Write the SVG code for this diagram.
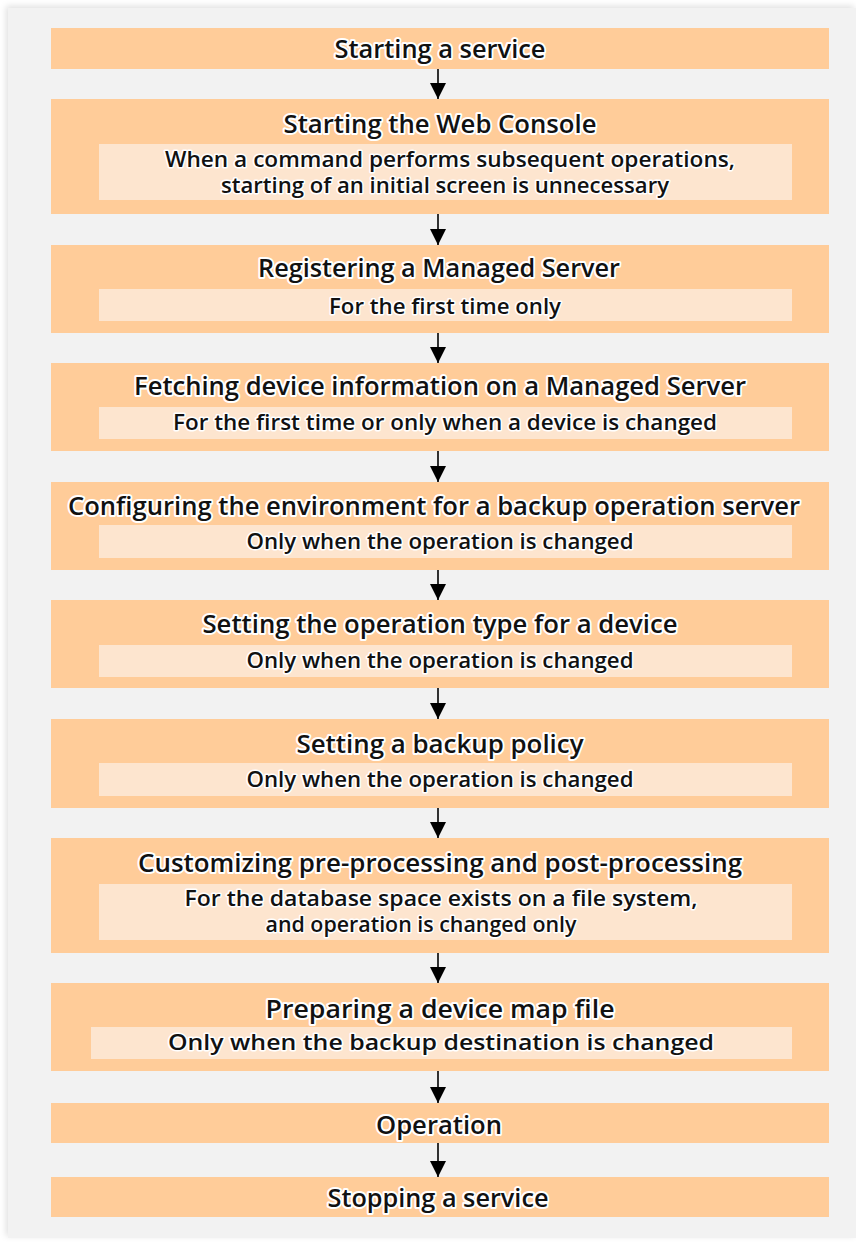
<svg xmlns="http://www.w3.org/2000/svg" width="856" height="1243" viewBox="0 0 856 1243">
<defs>
<filter id="sh" x="-5%" y="-5%" width="110%" height="110%">
<feDropShadow dx="-2" dy="-2" stdDeviation="3" flood-color="#000" flood-opacity="0.12"/>
</filter>
<marker id="ah" viewBox="0 0 16 16" refX="16" refY="8" markerWidth="16" markerHeight="16" markerUnits="userSpaceOnUse" orient="auto">
<path d="M0,0 L16,8 L0,16 Z" fill="#000"/>
</marker>
<style>
.box{fill:#ffcc99}
.inner{fill:#fde5cf}
.t{font-family:"Open Sans","Liberation Sans",sans-serif;font-weight:600;font-size:26px;fill:#111;stroke:#fff;stroke-width:4;stroke-linejoin:round;paint-order:stroke;text-anchor:middle}
.s{font-family:"Open Sans","Liberation Sans",sans-serif;font-weight:600;font-size:21px;fill:#111;stroke:#fff;stroke-width:3;stroke-linejoin:round;paint-order:stroke;text-anchor:middle}
.c{stroke:#000;stroke-width:1.6;fill:none}
</style>
</defs>
<rect x="0" y="0" width="856" height="1243" fill="#fff"/>
<rect x="8" y="8" width="848" height="1230" fill="#f2f2f2" filter="url(#sh)"/>

<g id="n1">
<rect class="box" x="51" y="28" width="778" height="41"/>
<text class="t" x="440" y="58" textLength="211" lengthAdjust="spacingAndGlyphs">Starting a service</text>
</g>
<g id="n2">
<rect class="box" x="51" y="99" width="778" height="115"/>
<rect class="inner" x="99" y="144" width="693" height="56"/>
<text class="t" x="440" y="133" textLength="313" lengthAdjust="spacingAndGlyphs">Starting the Web Console</text>
<text class="s" x="450" y="167" textLength="570" lengthAdjust="spacingAndGlyphs">When a command performs subsequent operations,</text>
<text class="s" x="445" y="193" textLength="448" lengthAdjust="spacingAndGlyphs">starting of an initial screen is unnecessary</text>
</g>
<g id="n3">
<rect class="box" x="51" y="245" width="778" height="88"/>
<rect class="inner" x="99" y="289" width="693" height="32"/>
<text class="t" x="439" y="277" textLength="362" lengthAdjust="spacingAndGlyphs">Registering a Managed Server</text>
<text class="s" x="445" y="314" textLength="232" lengthAdjust="spacingAndGlyphs">For the first time only</text>
</g>
<g id="n4">
<rect class="box" x="51" y="363" width="778" height="88"/>
<rect class="inner" x="99" y="407" width="693" height="32"/>
<text class="t" x="440" y="395" textLength="612" lengthAdjust="spacingAndGlyphs">Fetching device information on a Managed Server</text>
<text class="s" x="445" y="430" textLength="544" lengthAdjust="spacingAndGlyphs">For the first time or only when a device is changed</text>
</g>
<g id="n5">
<rect class="box" x="51" y="482" width="778" height="88"/>
<rect class="inner" x="99" y="525" width="693" height="33"/>
<text class="t" x="434" y="515" textLength="732" lengthAdjust="spacingAndGlyphs">Configuring the environment for a backup operation server</text>
<text class="s" x="440" y="549" textLength="387" lengthAdjust="spacingAndGlyphs">Only when the operation is changed</text>
</g>
<g id="n6">
<rect class="box" x="51" y="600" width="778" height="88"/>
<rect class="inner" x="99" y="645" width="693" height="32"/>
<text class="t" x="440" y="633" textLength="475" lengthAdjust="spacingAndGlyphs">Setting the operation type for a device</text>
<text class="s" x="440" y="668" textLength="387" lengthAdjust="spacingAndGlyphs">Only when the operation is changed</text>
</g>
<g id="n7">
<rect class="box" x="51" y="719" width="778" height="89"/>
<rect class="inner" x="99" y="763" width="693" height="33"/>
<text class="t" x="440" y="753" textLength="287" lengthAdjust="spacingAndGlyphs">Setting a backup policy</text>
<text class="s" x="440" y="787" textLength="387" lengthAdjust="spacingAndGlyphs">Only when the operation is changed</text>
</g>
<g id="n8">
<rect class="box" x="51" y="838" width="778" height="115"/>
<rect class="inner" x="99" y="884" width="693" height="56"/>
<text class="t" x="440" y="872" textLength="604" lengthAdjust="spacingAndGlyphs">Customizing pre-processing and post-processing</text>
<text class="s" x="441" y="906" textLength="513" lengthAdjust="spacingAndGlyphs">For the database space exists on a file system,</text>
<text class="s" x="421" y="932" textLength="311" lengthAdjust="spacingAndGlyphs">and operation is changed only</text>
</g>
<g id="n9">
<rect class="box" x="51" y="983" width="778" height="88"/>
<rect class="inner" x="91" y="1027" width="701" height="32"/>
<text class="t" x="440" y="1018" textLength="349" lengthAdjust="spacingAndGlyphs">Preparing a device map file</text>
<text class="s" x="441" y="1050" textLength="546" lengthAdjust="spacingAndGlyphs">Only when the backup destination is changed</text>
</g>
<g id="n10">
<rect class="box" x="51" y="1103" width="778" height="40"/>
<text class="t" x="439" y="1134" textLength="126" lengthAdjust="spacingAndGlyphs">Operation</text>
</g>
<g id="n11">
<rect class="box" x="51" y="1177" width="778" height="40"/>
<text class="t" x="438" y="1207" textLength="221" lengthAdjust="spacingAndGlyphs">Stopping a service</text>
</g>

<g id="connectors">
<line class="c" x1="438" y1="69" x2="438" y2="99" marker-end="url(#ah)"/>
<line class="c" x1="438" y1="214" x2="438" y2="245" marker-end="url(#ah)"/>
<line class="c" x1="438" y1="333" x2="438" y2="363" marker-end="url(#ah)"/>
<line class="c" x1="438" y1="451" x2="438" y2="482" marker-end="url(#ah)"/>
<line class="c" x1="438" y1="570" x2="438" y2="600" marker-end="url(#ah)"/>
<line class="c" x1="438" y1="688" x2="438" y2="719" marker-end="url(#ah)"/>
<line class="c" x1="438" y1="808" x2="438" y2="838" marker-end="url(#ah)"/>
<line class="c" x1="438" y1="953" x2="438" y2="983" marker-end="url(#ah)"/>
<line class="c" x1="438" y1="1071" x2="438" y2="1103" marker-end="url(#ah)"/>
<line class="c" x1="438" y1="1143" x2="438" y2="1177" marker-end="url(#ah)"/>
</g>
</svg>
